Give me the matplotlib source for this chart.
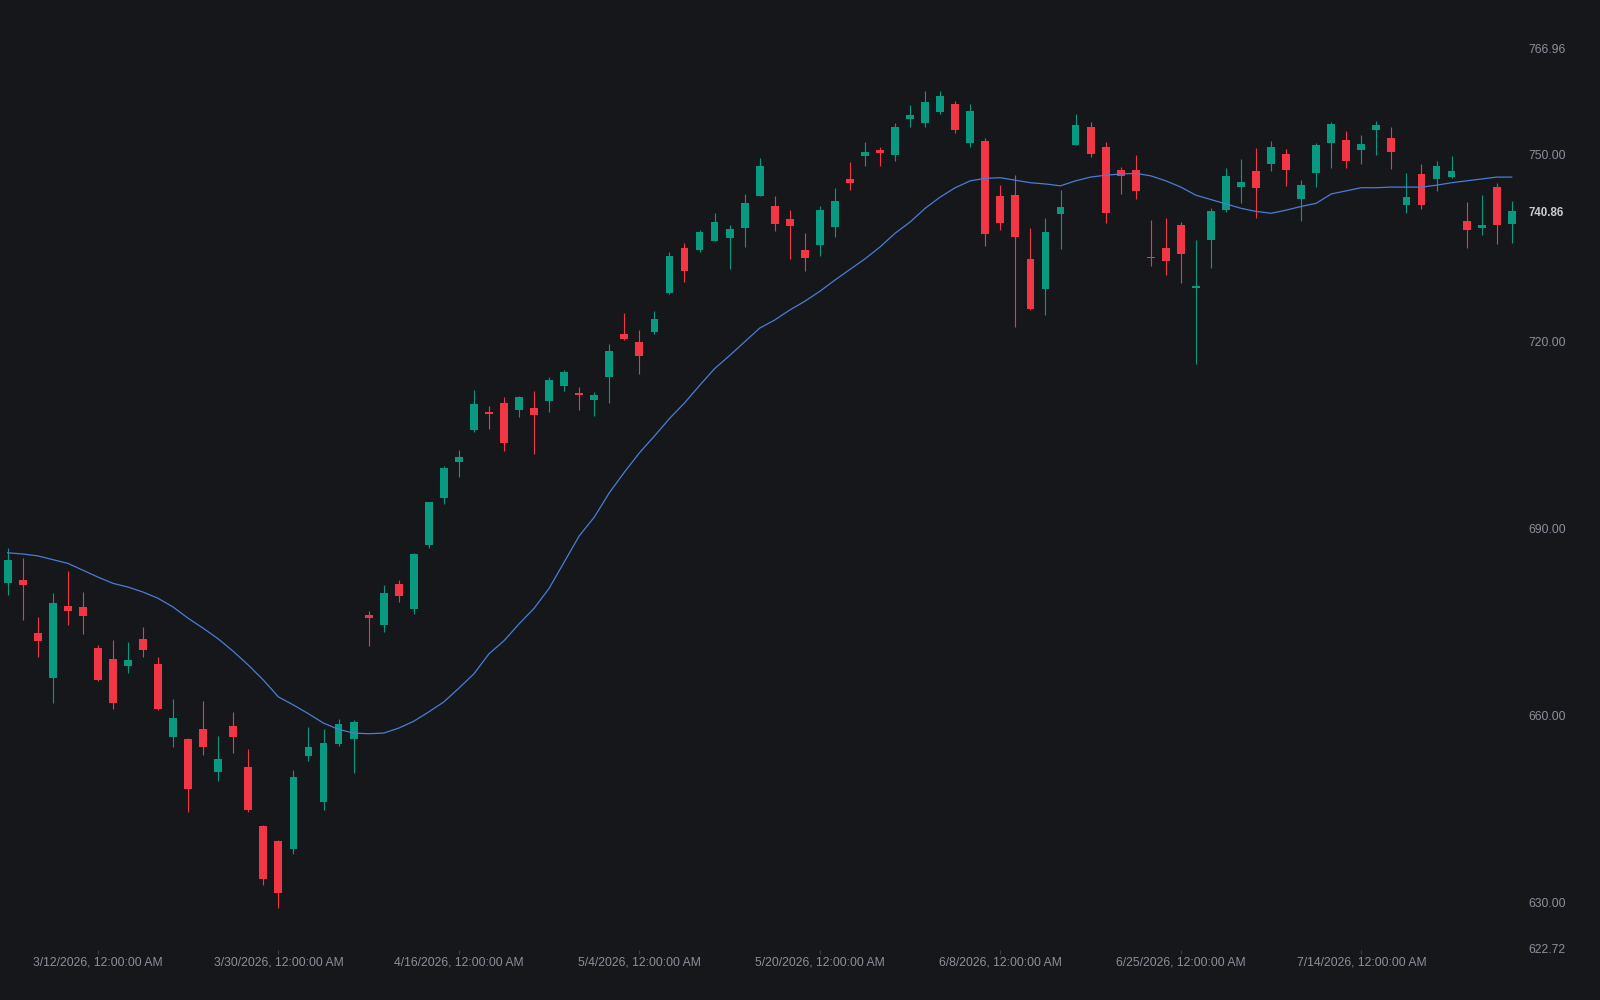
import numpy as np
import matplotlib.pyplot as plt

# couleurs
bg = '#16171b'
up_col = '#089981'
down_col = '#f23645'
ma_col = '#4a7dd6'
txt_col = '#8b909a'

# donnees (open, high, low, close)
opens = [681.3, 681.8, 673.2, 666.1, 677.5, 677.4, 670.9, 669.1, 668.0, 672.2,
         668.2, 656.6, 656.3, 657.9, 651.0, 658.4, 651.8, 642.3, 639.9, 638.7,
         653.6, 646.1, 655.5, 656.3, 676.2, 674.5, 681.1, 677.1, 687.3, 694.9,
         700.7, 705.8, 708.6, 710.1, 708.9, 709.3, 710.4, 712.9, 711.7, 710.6,
         714.3, 721.1, 719.9, 721.4, 727.8, 734.9, 734.6, 736.1, 736.6, 738.1,
         743.3, 741.6, 739.6, 734.6, 735.4, 738.3, 746.0, 749.7, 750.7, 749.9,
         755.6, 755.0, 756.7, 758.0, 751.8, 752.1, 743.2, 743.4, 733.2, 728.4,
         740.4, 751.5, 754.3, 751.1, 747.5, 747.4, 733.5, 734.9, 738.7, 728.6,
         736.2, 741.0, 744.7, 747.2, 748.4, 750.0, 742.8, 747.0, 751.7, 752.2,
         750.6, 753.9, 752.5, 741.8, 746.8, 746.0, 746.3, 739.2, 738.2, 744.7,
         738.8]
highs = [686.8, 685.2, 675.8, 679.6, 683.1, 679.8, 671.3, 672.1, 671.8, 674.2,
         669.4, 662.7, 656.4, 662.3, 656.7, 660.6, 654.6, 642.4, 640.1, 651.3,
         658.2, 657.9, 659.4, 659.3, 676.8, 680.9, 681.7, 686.0, 694.3, 700.0,
         702.6, 712.2, 709.6, 711.0, 711.2, 712.1, 714.3, 715.4, 712.6, 711.9,
         719.5, 724.6, 721.8, 724.8, 734.3, 735.8, 737.8, 740.5, 738.6, 743.6,
         749.3, 743.2, 741.1, 737.3, 741.6, 744.6, 748.7, 751.9, 751.1, 754.9,
         757.9, 760.1, 760.1, 758.5, 758.0, 752.5, 745.0, 746.6, 738.1, 739.7,
         744.2, 756.4, 755.1, 751.9, 747.9, 749.8, 739.4, 739.7, 739.1, 736.2,
         741.3, 747.7, 749.2, 751.0, 752.1, 750.8, 745.8, 751.7, 755.1, 753.7,
         753.0, 755.3, 754.3, 747.0, 748.4, 748.8, 749.7, 742.3, 743.4, 745.3,
         742.5]
lows = [679.3, 675.3, 669.4, 662.1, 674.5, 673.1, 665.6, 661.1, 666.9, 669.4,
        660.9, 654.9, 644.5, 653.7, 649.6, 654.0, 644.6, 632.9, 629.2, 637.8,
        652.7, 644.9, 655.2, 650.8, 671.2, 673.4, 678.2, 676.3, 686.9, 693.9,
        698.3, 705.5, 705.9, 702.4, 707.9, 702.0, 708.7, 712.1, 709.0, 708.0,
        710.1, 720.2, 714.7, 721.2, 727.6, 729.5, 734.3, 736.0, 731.6, 735.1,
        743.2, 737.7, 733.1, 731.3, 733.7, 736.7, 744.2, 748.1, 748.0, 748.9,
        754.4, 754.4, 756.4, 753.3, 751.2, 735.3, 737.8, 722.3, 725.0, 724.2,
        734.8, 751.4, 749.6, 739.0, 743.6, 742.8, 732.0, 730.6, 729.4, 716.3,
        731.8, 740.7, 742.1, 739.8, 747.2, 744.9, 739.3, 744.7, 747.8, 747.7,
        748.4, 749.9, 747.6, 740.6, 741.2, 744.0, 746.1, 735.0, 737.0, 735.6,
        735.8]
closes = [684.9, 681.0, 672.0, 678.0, 676.8, 676.0, 665.7, 662.0, 668.9, 670.5,
          661.1, 659.6, 648.2, 655.0, 653.0, 656.5, 644.8, 633.8, 631.6, 650.2,
          655.0, 655.6, 658.7, 659.0, 675.7, 679.7, 679.1, 685.9, 694.2, 699.7,
          701.4, 709.9, 708.3, 703.7, 711.0, 708.1, 713.8, 715.0, 711.4, 711.4,
          718.5, 720.3, 717.7, 723.6, 733.7, 731.3, 737.5, 739.1, 738.0, 742.1,
          748.0, 738.8, 738.4, 733.4, 741.0, 742.5, 745.3, 750.4, 750.1, 754.4,
          756.3, 758.3, 759.3, 753.9, 756.9, 737.2, 738.9, 736.7, 725.1, 737.5,
          741.5, 754.6, 750.0, 740.6, 746.4, 744.1, 733.3, 732.9, 734.0, 728.9,
          740.8, 746.5, 745.5, 744.5, 751.1, 747.4, 745.1, 751.4, 754.8, 748.8,
          751.6, 754.6, 750.4, 743.1, 741.8, 748.1, 747.2, 737.9, 738.7, 738.7,
          740.86]
ma = [686.1, 685.9, 685.6, 685.0, 684.4, 683.3, 682.2, 681.2, 680.6, 679.8,
      678.8, 677.4, 675.6, 674.0, 672.3, 670.3, 668.1, 665.7, 663.0, 661.7,
      660.3, 658.8, 657.8, 657.2, 657.1, 657.2, 658.0, 659.1, 660.6, 662.2,
      664.4, 666.7, 669.9, 672.0, 674.7, 677.2, 680.4, 684.6, 688.8, 691.8,
      695.7, 699.0, 702.1, 704.8, 707.6, 710.1, 712.9, 715.6, 717.7, 719.9,
      722.1, 723.4, 725.0, 726.4, 728.0, 729.8, 731.5, 733.2, 735.1, 737.3,
      739.1, 741.3, 743.1, 744.6, 745.7, 746.1, 746.2, 745.8, 745.4, 745.2,
      744.9, 745.7, 746.3, 746.6, 746.8, 746.9, 746.5, 745.7, 744.7, 743.4,
      742.7, 742.0, 741.3, 740.8, 740.5, 741.0, 741.6, 742.1, 743.6, 744.1,
      744.6, 744.6, 744.7, 744.7, 744.7, 745.0, 745.4, 745.7, 746.0, 746.3,
      746.3]

tick_idx = [6, 18, 30, 42, 54, 66, 78, 90]
tick_labels = ['3/12/2026, 12:00:00 AM', '3/30/2026, 12:00:00 AM',
               '4/16/2026, 12:00:00 AM', '5/4/2026, 12:00:00 AM',
               '5/20/2026, 12:00:00 AM', '6/8/2026, 12:00:00 AM',
               '6/25/2026, 12:00:00 AM', '7/14/2026, 12:00:00 AM']
price_ticks = [766.96, 750.00, 740.86, 720.00, 690.00, 660.00, 630.00, 622.72]

plt.rcParams['font.family'] = ['Liberation Sans', 'DejaVu Sans']

fig = plt.figure(figsize=(16, 10), dpi=100, facecolor=bg)
ax = fig.add_axes([0, 0.05, 0.95, 0.95], facecolor=bg)

o = np.array(opens)
h = np.array(highs)
l = np.array(lows)
c = np.array(closes)
x = np.arange(len(o))
cols = np.where(c >= o, up_col, down_col)

# meches puis corps
ax.vlines(x, l, h, colors=cols, linewidth=0.8, zorder=2)
ax.bar(x, np.maximum(np.abs(c - o), 0.25), bottom=np.minimum(o, c), width=0.52,
       color=cols, linewidth=0, zorder=3)

ax.plot(x, ma, color=ma_col, linewidth=0.9, zorder=4)

ax.set_xlim(-0.51, 100.55)
ax.set_ylim(622.44, 774.68)

for s in ax.spines.values():
    s.set_visible(False)

ax.set_xticks(tick_idx, tick_labels)
ax.tick_params(axis='x', colors=txt_col, length=3, width=0.8, pad=1.8,
               labelsize=8.7, labelcolor=txt_col)
ax.tick_params(axis='x', color='#3a3d45')

ax.yaxis.tick_right()
ax.set_yticks(price_ticks, ['%.2f' % p for p in price_ticks])
ax.tick_params(axis='y', length=0, pad=6, labelsize=8.7, labelcolor=txt_col)
for lbl in ax.get_yticklabels():
    if lbl.get_text() == '740.86':
        lbl.set_fontweight('bold')
        lbl.set_color('#c9ccd3')
        lbl.set_fontsize(8.3)

fig.savefig('out.png', dpi=100, facecolor=bg)
